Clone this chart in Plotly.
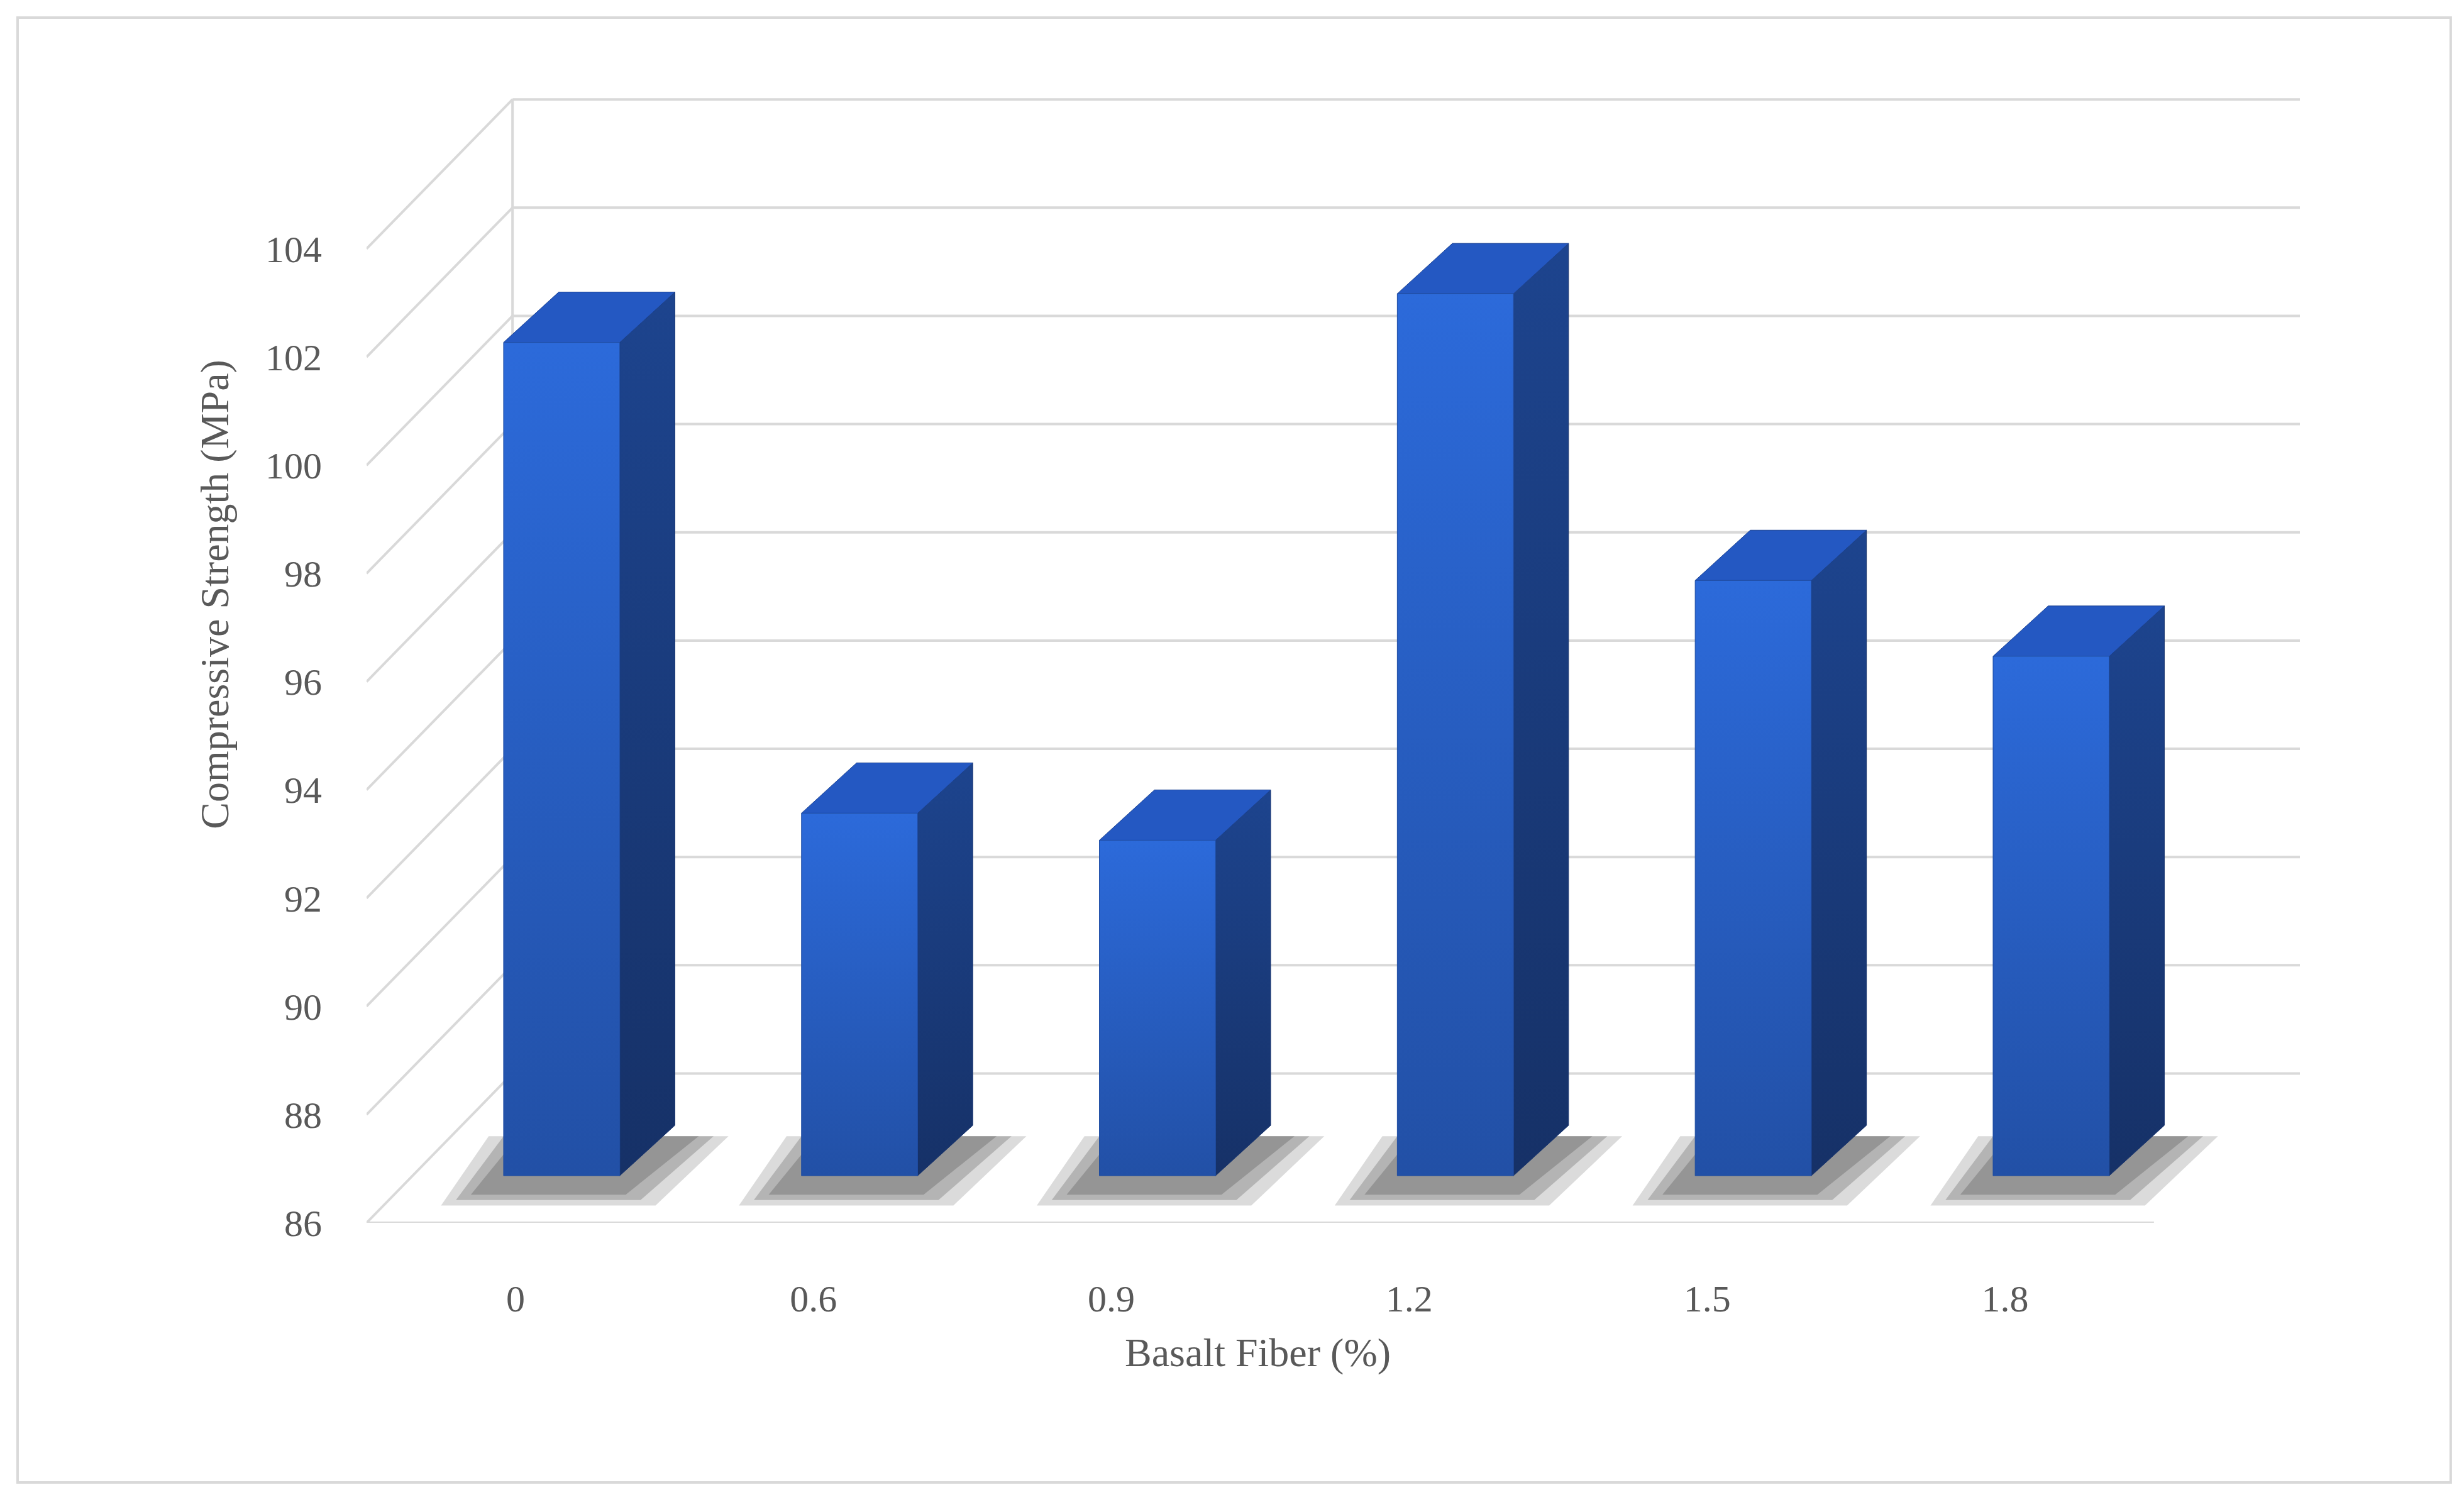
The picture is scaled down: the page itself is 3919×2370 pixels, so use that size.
import plotly.graph_objects as go

categories = ["0", "0.6", "0.9", "1.2", "1.5", "1.8"]
strength = [101.4, 92.7, 92.2, 102.3, 97.0, 95.6]
y_ticks = [86, 88, 90, 92, 94, 96, 98, 100, 102, 104]

Y0 = 86
DX, DY = 0.49, 2.76        # full depth offset (category units, MPa units)
BX, BY = 0.155, 0.87       # bar placement depth offset
W = 0.39                   # front face width
SX, SY = 0.185, 0.93       # bar depth
GRID = "#d9d9d9"
FONT = "Liberation Serif"

fig = go.Figure()

def line(xs, ys, color=GRID, width=4):
    fig.add_trace(go.Scatter(x=xs, y=ys, mode="lines", line=dict(color=color, width=width),
                             hoverinfo="skip", showlegend=False))

n = len(categories)
xl, xr = -0.5, n - 0.5
# back wall grid + left wall diagonals
for v in y_ticks:
    line([xl + DX, xr + DX], [v + DY, v + DY])
    line([xl, xl + DX], [v, v + DY])
# floor front edge and left back edge
line([xl, xr], [Y0, Y0])
line([xl + DX, xl + DX], [Y0 + DY, y_ticks[-1] + DY])

def poly(xs, ys, **kw):
    fig.add_trace(go.Scatter(x=xs + [xs[0]], y=ys + [ys[0]], mode="lines", fill="toself",
                             hoverinfo="skip", showlegend=False, **kw))

for i, v in enumerate(strength):
    x0 = i - 0.04
    x1 = x0 + W
    yb = Y0 + BY
    yt = v + BY
    # shadow
    for k, op in [(0.10, 0.25), (0.05, 0.35), (0.0, 0.45)]:
        poly([x0 - 0.11 - k, x1 + 0.02 + k, x1 + SX + 0.08 + k, x0 + 0.05 - k],
             [yb - 0.35 - k * 2, yb - 0.35 - k * 2, yb + SY - 0.2, yb + SY - 0.2],
             line=dict(width=0), fillcolor=f"rgba(110,110,110,{op})")
    # side face
    poly([x1, x1 + SX, x1 + SX, x1], [yb, yb + SY, yt + SY, yt],
         line=dict(color="#16336e", width=1),
         fillgradient=dict(type="vertical", colorscale=[[0, "#163167"], [1, "#1d448e"]]))
    # top face
    poly([x0, x1, x1 + SX, x0 + SX], [yt, yt, yt + SY, yt + SY],
         line=dict(color="#1b4292", width=1), fillcolor="#2458c2")
    # front face
    poly([x0, x1, x1, x0], [yb, yb, yt, yt],
         line=dict(color="#1f4ca0", width=1),
         fillgradient=dict(type="vertical", colorscale=[[0, "#2250a6"], [1, "#2c6ada"]]))

fig.update_layout(
    width=3919, height=2370,
    paper_bgcolor="white", plot_bgcolor="white",
    margin=dict(l=575, r=269, t=145, b=433, autoexpand=False),
    font=dict(family=FONT, color="#595959", size=60),
    xaxis=dict(range=[xl, xr + DX], tickvals=list(range(n)), ticktext=categories,
               showgrid=False, zeroline=False, showline=False, ticks="",
               ticklabelstandoff=80, tickfont=dict(size=60)),
    yaxis=dict(range=[86, 106.82], tickvals=y_ticks, showgrid=False, zeroline=False,
               showline=False, ticks="", ticklabelstandoff=70, tickfont=dict(size=60)),
    annotations=[
        dict(text="Compressive Strength (MPa)", xref="paper", yref="paper", x=-0.091, y=0.558,
             textangle=-90, showarrow=False, font=dict(size=64)),
        dict(text="Basalt Fiber (%)", xref="paper", yref="paper", x=0.461, y=-0.136,
             showarrow=False, font=dict(size=64)),
    ],
    shapes=[dict(type="rect", xref="paper", yref="paper", x0=-0.1805, x1=1.078,
                 y0=-0.2305, y1=1.0698, line=dict(color="#d9d9d9", width=4))],
)

fig.write_html("out.html")
